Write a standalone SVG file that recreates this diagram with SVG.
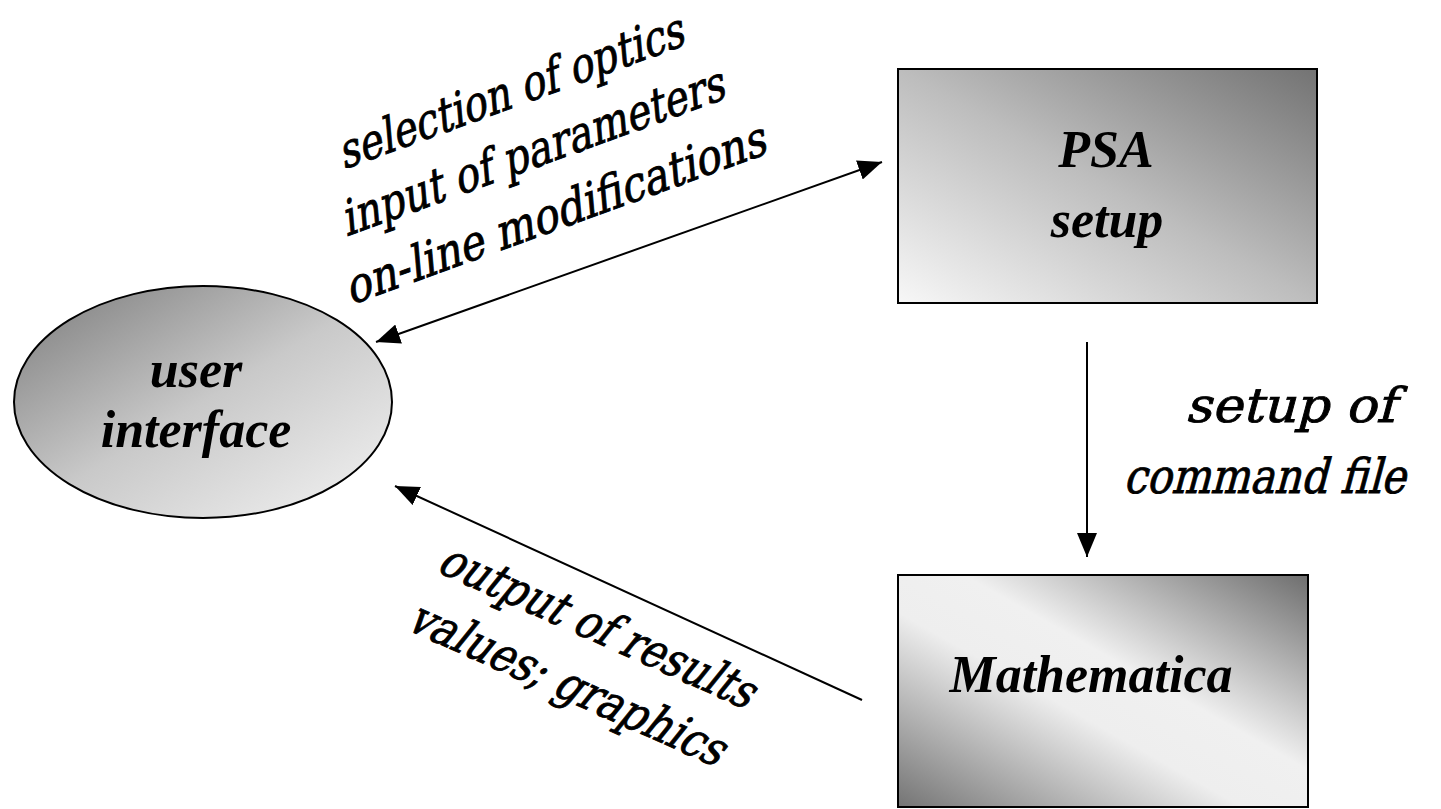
<svg xmlns="http://www.w3.org/2000/svg" width="1441" height="809" viewBox="0 0 1441 809">
  <style>
    .node-label { font-family: "Liberation Serif", "Times New Roman", serif; font-weight: bold; font-style: italic; font-size: 52px; fill: #000; text-anchor: middle; }
    .edge-label { font-family: "DejaVu Serif", "Liberation Serif", "Times New Roman", serif; font-style: normal; font-weight: normal; font-size: 48px; fill: #000; stroke: #000; stroke-width: 0.9; }
    .mid { text-anchor: middle; }
    .edge { stroke: #000; stroke-width: 2; fill: none; }
    .shape { stroke: #000; stroke-width: 2; }
  </style>
  <defs>
    <linearGradient id="gEllipse" x1="0" y1="0" x2="1" y2="1">
      <stop offset="0" stop-color="#7a7a7a"/>
      <stop offset="0.5" stop-color="#c9c9c9"/>
      <stop offset="1" stop-color="#f4f4f4"/>
    </linearGradient>
    <linearGradient id="gPSA" x1="1" y1="0" x2="0" y2="1">
      <stop offset="0" stop-color="#737373"/>
      <stop offset="0.5" stop-color="#bdbdbd"/>
      <stop offset="1" stop-color="#f7f7f7"/>
    </linearGradient>
    <linearGradient id="gMath" x1="1" y1="0" x2="0" y2="1">
      <stop offset="0" stop-color="#6e6e6e"/>
      <stop offset="0.42" stop-color="#f0f0f0"/>
      <stop offset="0.58" stop-color="#eeeeee"/>
      <stop offset="1" stop-color="#747474"/>
    </linearGradient>
    <marker id="arrow" viewBox="0 0 24 20" refX="24" refY="10" markerWidth="24" markerHeight="20" markerUnits="userSpaceOnUse" orient="auto-start-reverse">
      <path d="M0,0 L24,10 L0,20 z" fill="#000"/>
    </marker>
  </defs>
  <rect x="0" y="0" width="1441" height="809" fill="#fff"/>

  <g id="connectors">
    <line class="edge" x1="376" y1="342" x2="882" y2="162" marker-start="url(#arrow)" marker-end="url(#arrow)"/>
    <line class="edge" x1="1087" y1="342" x2="1087" y2="557" marker-end="url(#arrow)"/>
    <line class="edge" x1="862" y1="700" x2="395" y2="486" marker-end="url(#arrow)"/>
    <g transform="translate(515,107) rotate(-20)">
      <text class="edge-label mid" transform="skewX(-15)" x="0" y="0" textLength="365" lengthAdjust="spacingAndGlyphs">selection of optics</text>
      <text class="edge-label mid" transform="translate(0,64) skewX(-15)" x="0" y="0" textLength="405" lengthAdjust="spacingAndGlyphs">input of parameters</text>
      <text class="edge-label mid" transform="translate(0,130) skewX(-15)" x="0" y="0" textLength="445" lengthAdjust="spacingAndGlyphs">on-line modifications</text>
    </g>
    <text class="edge-label" transform="translate(1185,422) skewX(-15)" x="0" y="0" textLength="210" lengthAdjust="spacingAndGlyphs">setup of</text>
    <text class="edge-label" transform="translate(1123,493) skewX(-15)" x="0" y="0" textLength="282" lengthAdjust="spacingAndGlyphs">command file</text>
    <g transform="translate(590,640) rotate(24)">
      <text class="edge-label mid" transform="skewX(-15)" x="0" y="0" textLength="340" lengthAdjust="spacingAndGlyphs">output of results</text>
      <text class="edge-label mid" transform="translate(-4,65) skewX(-15)" x="0" y="0" textLength="340" lengthAdjust="spacingAndGlyphs">values; graphics</text>
    </g>
  </g>

  <g id="node-user">
    <ellipse class="shape" cx="203" cy="402" rx="189" ry="116" fill="url(#gEllipse)"/>
    <text class="node-label" x="196" y="387">user</text>
    <text class="node-label" x="196" y="447">interface</text>
  </g>

  <g id="node-psa">
    <rect class="shape" x="898" y="69" width="419" height="234" fill="url(#gPSA)"/>
    <text class="node-label" x="1106" y="167">PSA</text>
    <text class="node-label" x="1107" y="237">setup</text>
  </g>

  <g id="node-mathematica">
    <rect class="shape" x="898" y="575" width="410" height="232" fill="url(#gMath)"/>
    <text class="node-label" x="1091" y="692">Mathematica</text>
  </g>
</svg>
